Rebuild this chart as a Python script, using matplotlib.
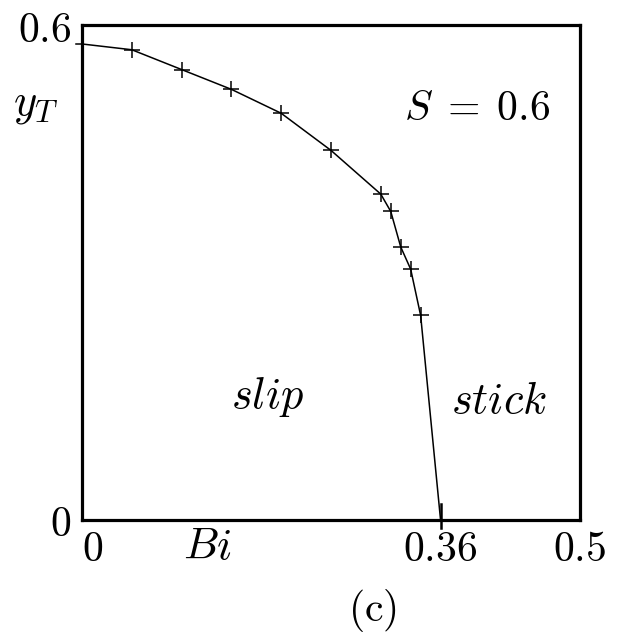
import matplotlib
matplotlib.use("Agg")
import matplotlib.pyplot as plt

plt.rcParams["mathtext.fontset"] = "cm"
plt.rcParams["font.family"] = ["DejaVu Serif"]

# Slip/stick boundary for S = 0.6
bi = [0.0, 0.05, 0.10, 0.15, 0.20, 0.25, 0.30, 0.31, 0.32, 0.33, 0.34, 0.36]
y_t = [0.577, 0.570, 0.546, 0.522, 0.493, 0.448, 0.395, 0.374, 0.331, 0.304, 0.248, 0.0]

x_ticks = [0, 0.36, 0.5]
x_tick_labels = ["$0$", "$0.36$", "$0.5$"]
y_ticks = [0, 0.6]
y_tick_labels = ["$0$", "$0.6$"]

W, H = 627, 639
fig = plt.figure(figsize=(W / 100, H / 100), dpi=100)
ax = fig.add_axes([82 / W, 1 - 520 / H, (580 - 82) / W, (520 - 25) / H])

ax.plot(bi, y_t, color="black", lw=1.1, clip_on=False, zorder=3)
ax.plot(bi[1:-1], y_t[1:-1], ls="none", marker="+", ms=12, mew=1.1,
        color="black", clip_on=False, zorder=4)

# short marks where the curve meets the axes
ax.axvline(bi[-1], ymin=-0.016, ymax=0.032, color="black", lw=1.8,
           clip_on=False, zorder=5)
ax.axhline(y_t[0], xmin=-0.012, xmax=0.0, color="black", lw=1.1,
           clip_on=False, zorder=5)

ax.set_xlim(0, 0.5)
ax.set_ylim(0, 0.6)
for sp in ax.spines.values():
    sp.set_linewidth(2.3)

fs = 30
ax.set_xticks(x_ticks)
ax.set_xticklabels(x_tick_labels, fontsize=fs)
ax.set_yticks(y_ticks)
ax.set_yticklabels(y_tick_labels, fontsize=fs)
ax.tick_params(axis="both", which="major", length=0, pad=8)
ax.tick_params(axis="x", pad=6)
ax.get_xticklabels()[0].set_horizontalalignment("left")

fs2 = 32
fig.text(183 / W, 1 - 546 / H, "$Bi$", fontsize=fs2, ha="left", va="center")
fig.text(13 / W, 1 - 104 / H, "$y_T$", fontsize=fs2, ha="left", va="center")
fig.text(550 / W, 1 - 108 / H, r"$S\;=\;0.6$", fontsize=fs, ha="right",
         va="center")
fig.text(268 / W, 1 - 397 / H, "$slip$", fontsize=fs2, ha="center",
         va="center")
fig.text(499 / W, 1 - 400 / H, "$stick$", fontsize=fs2, ha="center",
         va="center")
fig.text(372 / W, 1 - 610 / H, r"$\mathrm{(c)}$", fontsize=fs, ha="center",
         va="center")

fig.savefig("out.png", dpi=100)
